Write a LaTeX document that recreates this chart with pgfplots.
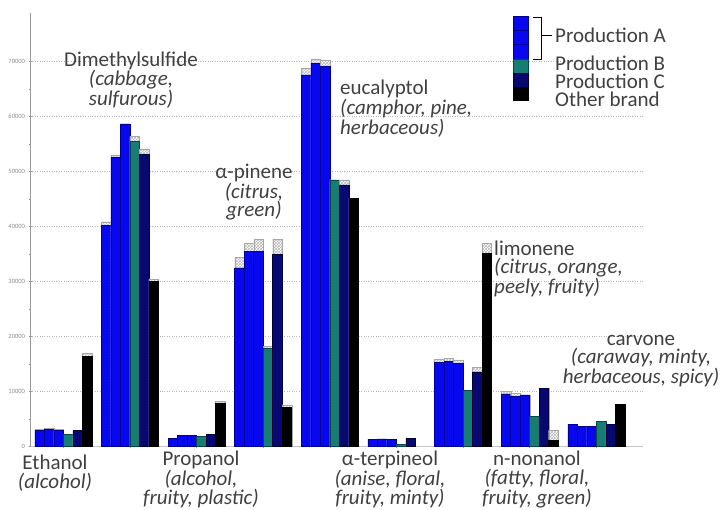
\documentclass[border=0pt]{standalone}
\usepackage{fontspec}
\setmainfont{Carlito}
\usepackage{pgfplots}
\pgfplotsset{compat=1.18}
\usepackage{pgfplotstable}
\usetikzlibrary{patterns}

\definecolor{prodA}{RGB}{8,8,238}
\definecolor{prodAedge}{RGB}{0,0,150}
\definecolor{prodB}{RGB}{22,124,116}
\definecolor{prodBedge}{RGB}{10,70,65}
\definecolor{prodC}{RGB}{8,8,115}
\definecolor{prodCedge}{RGB}{0,0,60}
\definecolor{txt}{RGB}{64,64,64}

\newcommand\lbl{\fontsize{21}{18.5}\selectfont}

% columns: x = compound index, v = bar value, e = top of hatched cap
\pgfplotstableread{
x v e
0 3000 3100
1 40300 40900
2 1530 1530
3 32500 34400
4 67600 68800
5 1340 1340
6 15300 15900
7 9600 10000
8 4070 4070
}\tabAone
\pgfplotstableread{
x v e
0 3200 3300
1 52600 53000
2 2000 2000
3 35500 37000
4 69700 70400
5 1400 1400
6 15500 16000
7 9200 9700
8 3640 3640
}\tabAtwo
\pgfplotstableread{
x v e
0 3000 3100
1 58700 58700
2 2000 2000
3 35500 37800
4 69100 70300
5 1300 1300
6 15200 15800
7 9400 9400
8 3640 3640
}\tabAthree
\pgfplotstableread{
x v e
0 2250 2250
1 55500 56400
2 1820 1820
3 17900 18200
4 48500 48500
5 430 430
6 10300 10300
7 5500 5500
8 4670 4670
}\tabB
\pgfplotstableread{
x v e
0 2900 3000
1 53200 54100
2 2250 2250
3 35000 37800
4 47600 48500
5 1520 1520
6 13600 14400
7 10600 10600
8 4070 4070
}\tabC
\pgfplotstableread{
x v e
0 16400 17000
1 30000 30500
2 7900 8200
3 7100 7600
4 45200 45200
6 35200 37000
7 1200 3000
8 7760 7760
}\tabO

\begin{document}
\begin{tikzpicture}
\useasboundingbox (0pt,0pt) rectangle (722pt,510pt);
\begin{axis}[
  at={(30pt,63.3pt)}, anchor=south west,
  scale only axis, width=613pt, height=434pt,
  xmin=-0.5, xmax=8.7, ymin=0, ymax=78900,
  ybar, bar width=9.5pt,
  axis x line*=bottom, axis y line*=left,
  axis line style={-},
  x axis line style={gray!45},
  y axis line style={gray!80},
  xtick={0,...,8}, xticklabels={,,,,,,,,},
  ytick={0,10000,...,70000},
  minor y tick num=1,
  scaled y ticks=false,
  /pgf/number format/assume math mode=true,
  /pgf/number format/1000 sep={},
  yticklabel style={font=\fontsize{6.5}{7}\selectfont, text=gray!90},
  tick style={gray!80, line width=0.5pt},
  major tick length=3pt, minor tick length=2.5pt,
  tick align=center,
  ymajorgrids, grid style={dotted, gray!55, line width=0.7pt},
  cap/.style={fill=white, draw=gray!70, line width=0.4pt,
    postaction={pattern=crosshatch, pattern color=gray!55}},
]
% Production A (three runs)
\addplot[bar shift=-23.75pt, cap] table[x=x,y=e]{\tabAone};
\addplot[bar shift=-23.75pt, fill=prodA, draw=prodAedge, line width=0.5pt] table[x=x,y=v]{\tabAone};
\addplot[bar shift=-14.25pt, cap] table[x=x,y=e]{\tabAtwo};
\addplot[bar shift=-14.25pt, fill=prodA, draw=prodAedge, line width=0.5pt] table[x=x,y=v]{\tabAtwo};
\addplot[bar shift=-4.75pt, cap] table[x=x,y=e]{\tabAthree};
\addplot[bar shift=-4.75pt, fill=prodA, draw=prodAedge, line width=0.5pt] table[x=x,y=v]{\tabAthree};
% Production B
\addplot[bar shift=4.75pt, cap] table[x=x,y=e]{\tabB};
\addplot[bar shift=4.75pt, fill=prodB, draw=prodBedge, line width=0.5pt] table[x=x,y=v]{\tabB};
% Production C
\addplot[bar shift=14.25pt, cap] table[x=x,y=e]{\tabC};
\addplot[bar shift=14.25pt, fill=prodC, draw=prodCedge, line width=0.5pt] table[x=x,y=v]{\tabC};
% Other brand
\addplot[bar shift=23.75pt, cap] table[x=x,y=e]{\tabO};
\addplot[bar shift=23.75pt, fill=black, draw=black, line width=0.5pt] table[x=x,y=v]{\tabO};
\end{axis}

% compound labels
\begin{scope}[every node/.style={font=\lbl, text=txt, inner sep=0pt}]
\node[align=center] at (55pt,37pt) {Ethanol\\\textit{(alcohol)}};
\node[align=center] at (131pt,430pt) {Dimethylsulfide\\\textit{(cabbage,}\\\textit{sulfurous)}};
\node[align=center] at (201pt,30.5pt) {Propanol\\\textit{(alcohol,}\\\textit{fruity, plastic)}};
\node[align=center] at (254pt,318pt) {α-pinene\\\textit{(citrus,}\\\textit{green)}};
\node[align=left, anchor=west] at (340pt,401.5pt) {eucalyptol\\\textit{(camphor, pine,}\\\textit{herbaceous)}};
\node[align=center] at (390pt,30.5pt) {α-terpineol\\\textit{(anise, floral,}\\\textit{fruity, minty)}};
\node[align=left, anchor=west] at (494pt,241pt) {limonene\\\textit{(citrus, orange,}\\\textit{peely, fruity)}};
\node[align=center] at (537pt,30.5pt) {n-nonanol\\\textit{(fatty, floral,}\\\textit{fruity, green)}};
\node[align=center] at (641pt,149pt) {carvone\\\textit{(caraway, minty,}\\\textit{herbaceous, spicy)}};
\end{scope}

% legend
\filldraw[fill=prodA, draw=prodAedge, line width=0.5pt] (513pt,480pt) rectangle (528pt,494pt);
\filldraw[fill=prodA, draw=prodAedge, line width=0.5pt] (513pt,465.5pt) rectangle (528pt,480pt);
\filldraw[fill=prodA, draw=prodAedge, line width=0.5pt] (513pt,451pt) rectangle (528pt,465.5pt);
\filldraw[fill=prodB, draw=prodBedge, line width=0.5pt] (513pt,437pt) rectangle (528pt,451pt);
\filldraw[fill=prodC, draw=prodCedge, line width=0.5pt] (513pt,423pt) rectangle (528pt,437pt);
\filldraw[fill=black, draw=black, line width=0.5pt] (513pt,410pt) rectangle (528pt,423pt);
\draw[black, line width=0.8pt] (533pt,493pt) -- (541pt,493pt) -- (541pt,451pt) -- (533pt,451pt);
\draw[black, line width=0.8pt] (541pt,475pt) -- (552pt,475pt);
\begin{scope}[every node/.style={font=\lbl, text=txt, inner sep=0pt, anchor=west}]
\node at (555pt,475pt) {Production A};
\node at (555pt,447pt) {Production B};
\node at (555pt,429pt) {Production C};
\node at (555pt,411pt) {Other brand};
\end{scope}
\end{tikzpicture}
\end{document}
